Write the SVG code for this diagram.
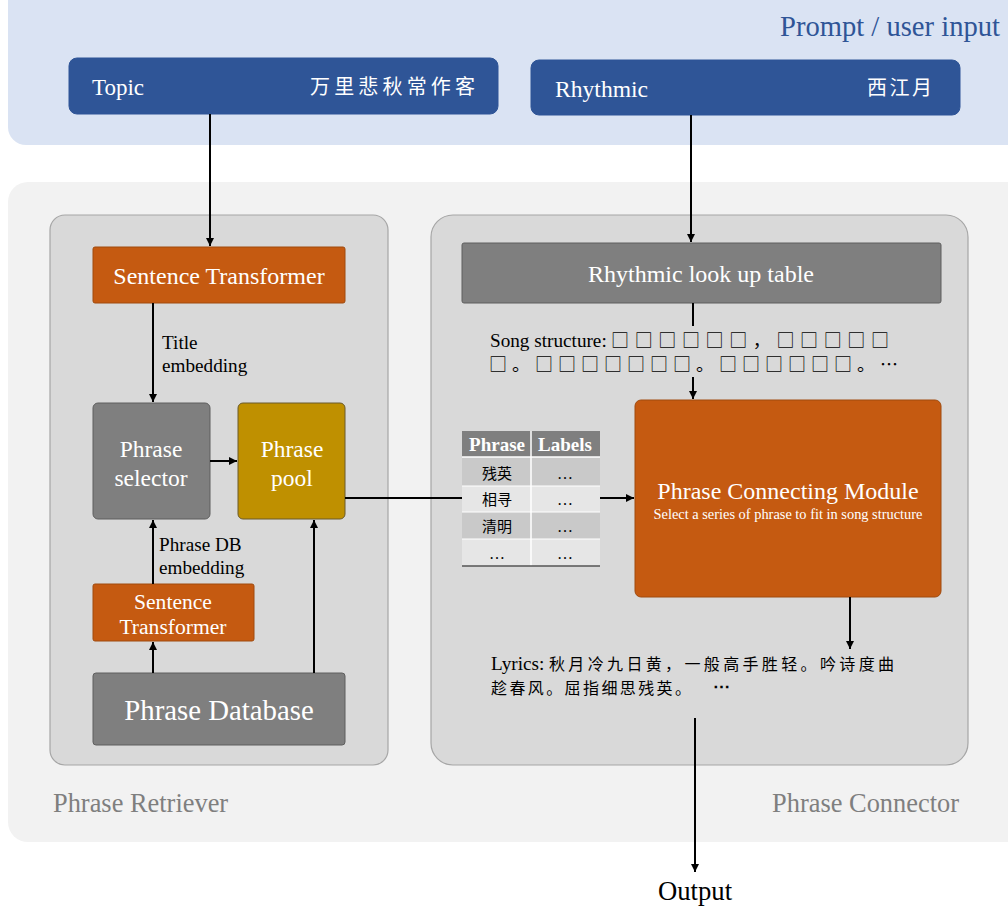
<svg xmlns="http://www.w3.org/2000/svg" width="1008" height="908" viewBox="0 0 1008 908">
<style>
text{font-family:"Liberation Serif","Times New Roman","DejaVu Serif",serif;}
.cjk{font-family:"Noto Sans CJK SC","Noto Sans CJK TC",sans-serif;}
.w{fill:#ffffff;}
.k{fill:#000000;}
.hdr{fill:#2f5597;stroke:#2f5597;}
.org{fill:#c55a11;stroke:#a04a0e;stroke-width:1;}
.gry{fill:#7f7f7f;stroke:#5f5f5f;stroke-width:1;}
.gold{fill:#bf9000;stroke:#6b5a2a;stroke-width:1;}
.panel{fill:#d9d9d9;stroke:#a6a6a6;stroke-width:1.2;}
.conn{stroke:#000;stroke-width:2;fill:none;}
.glbl{fill:#7f7f7f;font-size:26.4px;}
.lbl{font-size:19.2px;fill:#000;}
</style>
<defs>
<marker id="ah" viewBox="0 0 10 10" refX="10" refY="5" markerWidth="4" markerHeight="4" orient="auto" markerUnits="strokeWidth">
<path d="M0,0 L10,5 L0,10 z" fill="#000"/>
</marker>
</defs>
<rect width="1008" height="908" fill="#ffffff"/>
<g id="input-band">
<rect x="8" y="-30" width="1030" height="175" rx="18" fill="#dae3f3"/>
<text x="1000" y="36" text-anchor="end" font-size="28.6" fill="#2f5597">Prompt / user input</text>
</g>
<g id="system-panel">
<rect x="8" y="182" width="1030" height="660" rx="20" fill="#f2f2f2"/>
</g>
<g id="phrase-retriever">
<rect class="panel" x="50" y="215" width="338" height="550" rx="15"/>
<text class="glbl" x="53" y="812">Phrase Retriever</text>
</g>
<g id="phrase-connector">
<rect class="panel" x="431" y="215" width="537" height="550" rx="22"/>
<text class="glbl" x="959" y="812" text-anchor="end">Phrase Connector</text>
</g>
<g id="topic">
<rect class="hdr" x="69" y="58" width="429" height="56" rx="8"/>
<text class="w" x="92" y="95" font-size="23">Topic</text>
<text class="w cjk" x="310" y="94" font-size="20" textLength="165" lengthAdjust="spacing">万里悲秋常作客</text>
</g>
<g id="rhythmic">
<rect class="hdr" x="531" y="60" width="429" height="55" rx="8"/>
<text class="w" x="555" y="97" font-size="23.6">Rhythmic</text>
<text class="w cjk" x="867" y="95" font-size="20" textLength="65" lengthAdjust="spacing">西江月</text>
</g>
<g id="sentence-transformer-1">
<rect class="org" x="93" y="247" width="252" height="56" rx="2"/>
<text class="w" x="219" y="284" font-size="24" text-anchor="middle">Sentence Transformer</text>
</g>
<g id="phrase-selector">
<rect class="gry" x="93" y="403" width="117" height="116" rx="5"/>
<text class="w" x="151" y="457" font-size="23.5" text-anchor="middle">Phrase</text>
<text class="w" x="151" y="486" font-size="23.5" text-anchor="middle">selector</text>
</g>
<g id="phrase-pool">
<rect class="gold" x="238" y="403" width="107" height="116" rx="5"/>
<text class="w" x="292" y="457" font-size="23.5" text-anchor="middle">Phrase</text>
<text class="w" x="292" y="486" font-size="23.5" text-anchor="middle">pool</text>
</g>
<g id="sentence-transformer-2">
<rect class="org" x="93" y="584" width="161" height="57" rx="2"/>
<text class="w" x="173" y="609" font-size="21.6" text-anchor="middle">Sentence</text>
<text class="w" x="173" y="634" font-size="21.6" text-anchor="middle">Transformer</text>
</g>
<g id="phrase-database">
<rect class="gry" x="93" y="673" width="252" height="72" rx="3"/>
<text class="w" x="219" y="720" font-size="28.8" text-anchor="middle">Phrase Database</text>
</g>
<g id="rhythmic-table">
<rect class="gry" x="462" y="243" width="479" height="60" rx="2"/>
<text class="w" x="701" y="282" font-size="24" text-anchor="middle">Rhythmic look up table</text>
</g>
<g id="song-structure">
<text class="lbl" x="490" y="347">Song structure:</text>
<text class="k cjk" x="611" y="347" font-size="18" textLength="278" lengthAdjust="spacing">□□□□□□，□□□□□</text>
<text class="k cjk" x="489" y="371" font-size="18" textLength="409" lengthAdjust="spacing">□。□□□□□□□。□□□□□□。…</text>
</g>
<g id="phrase-table">
<rect x="462" y="431" width="138" height="26" fill="#7f7f7f"/>
<rect x="462" y="457" width="138" height="29" fill="#c9c9c9"/>
<rect x="462" y="486" width="138" height="26" fill="#e6e6e6"/>
<rect x="462" y="512" width="138" height="27" fill="#c9c9c9"/>
<rect x="462" y="539" width="138" height="27" fill="#e6e6e6"/>
<line x1="531" y1="431" x2="531" y2="566" stroke="#ffffff" stroke-width="1.5"/>
<line x1="462" y1="457" x2="600" y2="457" stroke="#ffffff" stroke-width="1.5"/>
<line x1="462" y1="486" x2="600" y2="486" stroke="#ffffff" stroke-width="1"/>
<line x1="462" y1="512" x2="600" y2="512" stroke="#ffffff" stroke-width="1"/>
<line x1="462" y1="539" x2="600" y2="539" stroke="#ffffff" stroke-width="1"/>
<line x1="462" y1="566" x2="600" y2="566" stroke="#555555" stroke-width="1.5"/>
<text class="w" x="497" y="451" font-size="19" font-weight="bold" text-anchor="middle">Phrase</text>
<text class="w" x="565" y="451" font-size="19" font-weight="bold" text-anchor="middle">Labels</text>
<text class="k cjk" x="497" y="479" font-size="15" text-anchor="middle">残英</text>
<text class="k" x="565" y="479" font-size="16" text-anchor="middle">…</text>
<text class="k cjk" x="497" y="505" font-size="15" text-anchor="middle">相寻</text>
<text class="k" x="565" y="505" font-size="16" text-anchor="middle">…</text>
<text class="k cjk" x="497" y="532" font-size="15" text-anchor="middle">清明</text>
<text class="k" x="565" y="532" font-size="16" text-anchor="middle">…</text>
<text class="k" x="497" y="559" font-size="16" text-anchor="middle">…</text>
<text class="k" x="565" y="559" font-size="16" text-anchor="middle">…</text>
</g>
<g id="phrase-connecting-module">
<rect class="org" x="635" y="400" width="306" height="197" rx="6"/>
<text class="w" x="788" y="499" font-size="24" text-anchor="middle">Phrase Connecting Module</text>
<text class="w" x="788" y="519" font-size="14.4" text-anchor="middle">Select a series of phrase to fit in song structure</text>
</g>
<g id="lyrics">
<text class="lbl" x="491" y="670">Lyrics:</text>
<text class="k cjk" x="549" y="670" font-size="16" textLength="345" lengthAdjust="spacing">秋月冷九日黄，一般高手胜轻。吟诗度曲</text>
<text class="k cjk" x="491" y="694" font-size="16" textLength="200" lengthAdjust="spacing">趁春风。屈指细思残英。</text>
<text class="k" x="713" y="692" font-size="17" font-weight="bold">⋯</text>
</g>
<g id="output">
<text class="k" x="695" y="900" font-size="26.7" text-anchor="middle">Output</text>
</g>
<g id="connectors">
<line class="conn" x1="210" y1="114" x2="210" y2="246" marker-end="url(#ah)"/>
<line class="conn" x1="691" y1="115" x2="691" y2="242" marker-end="url(#ah)"/>
<line class="conn" x1="153" y1="303" x2="153" y2="402" marker-end="url(#ah)"/>
<line class="conn" x1="210" y1="461" x2="237" y2="461" marker-end="url(#ah)"/>
<line class="conn" x1="153" y1="584" x2="153" y2="520" marker-end="url(#ah)"/>
<line class="conn" x1="153" y1="673" x2="153" y2="642" marker-end="url(#ah)"/>
<line class="conn" x1="314" y1="673" x2="314" y2="520" marker-end="url(#ah)"/>
<line class="conn" x1="345" y1="498" x2="462" y2="498"/>
<line class="conn" x1="600" y1="498" x2="634" y2="498" marker-end="url(#ah)"/>
<line class="conn" x1="693" y1="303" x2="693" y2="326"/>
<line class="conn" x1="693" y1="377" x2="693" y2="399" marker-end="url(#ah)"/>
<line class="conn" x1="850" y1="597" x2="850" y2="649" marker-end="url(#ah)"/>
<line class="conn" x1="695" y1="718" x2="695" y2="872" marker-end="url(#ah)"/>
<text class="lbl" x="159" y="551">Phrase DB</text>
<text class="lbl" x="159" y="574">embedding</text>
<text class="lbl" x="162" y="349">Title</text>
<text class="lbl" x="162" y="372">embedding</text>
</g>
</svg>
